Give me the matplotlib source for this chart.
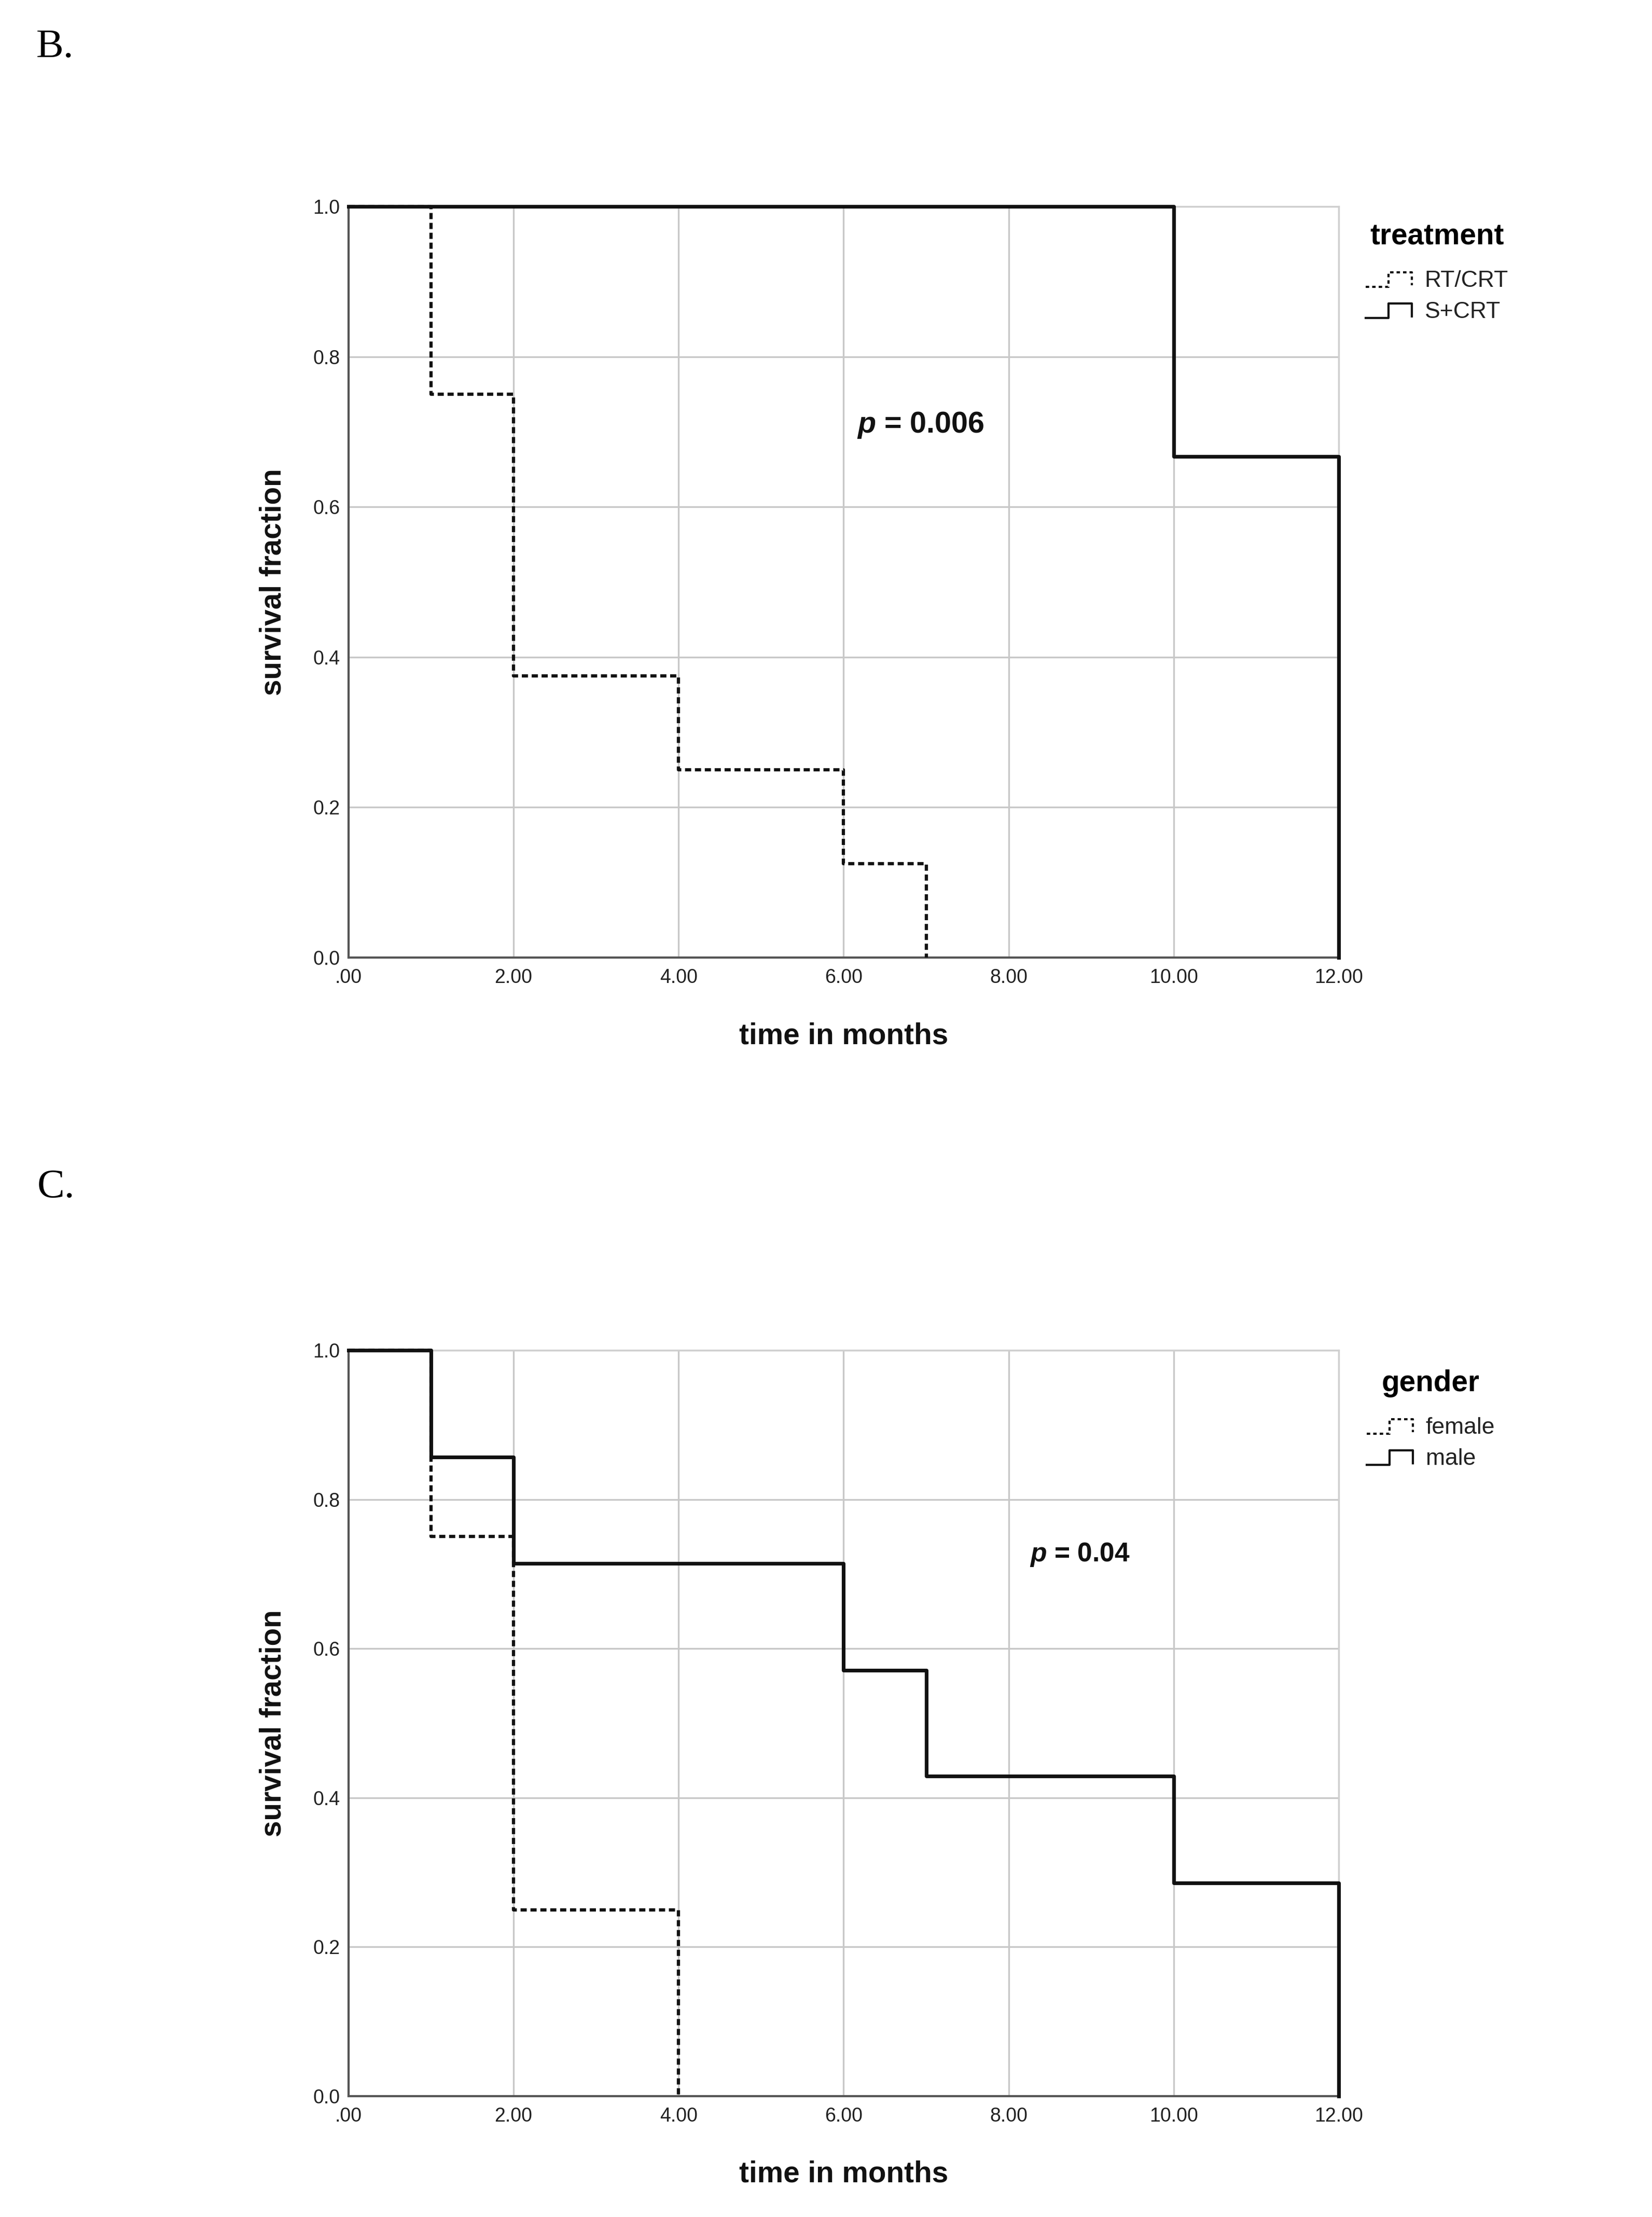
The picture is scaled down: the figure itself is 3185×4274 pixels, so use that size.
import numpy as np
import matplotlib
matplotlib.use("Agg")
import matplotlib.pyplot as plt
from matplotlib.lines import Line2D
from matplotlib.legend_handler import HandlerBase

plt.rcParams['font.family'] = ['Liberation Sans', 'DejaVu Sans']
plt.rcParams['mathtext.fontset'] = 'custom'
plt.rcParams['mathtext.rm'] = 'Liberation Sans'
plt.rcParams['mathtext.bfit'] = 'Liberation Sans:italic:bold'

# Datos: curvas de Kaplan-Meier (tiempo de cada escalón, supervivencia)
# Panel B - tratamiento
t_rtcrt = [0, 1, 2, 4, 6, 7]
s_rtcrt = [1.0, 0.75, 0.375, 0.25, 0.125, 0.0]
t_scrt = [0, 10, 12]
s_scrt = [1.0, 0.667, 0.0]

# Panel C - género
t_female = [0, 1, 2, 4]
s_female = [1.0, 0.75, 0.25, 0.0]
t_male = [0, 1, 2, 6, 7, 10, 12]
s_male = [1.0, 0.857, 0.714, 0.571, 0.429, 0.286, 0.0]

x_ticks = [0, 2, 4, 6, 8, 10, 12]
x_labels = ['.00', '2.00', '4.00', '6.00', '8.00', '10.00', '12.00']
y_ticks = [0.0, 0.2, 0.4, 0.6, 0.8, 1.0]
y_labels = ['0.0', '0.2', '0.4', '0.6', '0.8', '1.0']

DOTTED = (0, (1.9, 1.15))


class StepHandler(HandlerBase):
    # dibuja el símbolo de la leyenda como un pequeño escalón
    def create_artists(self, legend, orig_handle, xdescent, ydescent,
                       width, height, fontsize, trans):
        x0 = -xdescent
        xs = [x0, x0 + 0.5 * width, x0 + 0.5 * width, x0 + width, x0 + width]
        y_lo = -ydescent + 0.0 * height
        y_hi = -ydescent + 0.9 * height
        ys = [y_lo, y_lo, y_hi, y_hi, y_lo + 0.1 * height]
        ln = Line2D(xs, ys, color='#111111', lw=1.0,
                    linestyle=orig_handle.get_linestyle(), transform=trans)
        if orig_handle.get_linestyle() != '-':
            ln.set_dashes((1.6, 1.4))
        return [ln]


fig = plt.figure(figsize=(3186 / 300, 4274 / 300), dpi=300)


def panel(rect, curves, legend_title, legend_anchor, ptext, ppos, psize):
    ax = fig.add_axes(rect)
    handles = []
    for t, s, ls, lab, z in curves:
        if ls == '-':
            h, = ax.step(t, s, where='post', color='#111111', lw=1.7,
                         linestyle='-', clip_on=False, zorder=4, label=lab)
        else:
            h, = ax.step(t, s, where='post', color='#111111', lw=1.5,
                         linestyle=DOTTED, clip_on=False, zorder=3, label=lab)
        handles.append(h)
    ax.set_xlim(0, 12)
    ax.set_ylim(0, 1)
    ax.set_xticks(x_ticks)
    ax.set_xticklabels(x_labels)
    ax.set_yticks(y_ticks)
    ax.set_yticklabels(y_labels)
    ax.tick_params(length=0, labelsize=9, labelcolor='#222222')
    ax.tick_params(axis='x', pad=5)
    ax.tick_params(axis='y', pad=4)
    ax.grid(True, color='#c8c8c8', lw=0.8)
    ax.set_axisbelow(True)
    for side in ['left', 'bottom']:
        ax.spines[side].set_color('#555555')
        ax.spines[side].set_linewidth(1.0)
    for side in ['top', 'right']:
        ax.spines[side].set_color('#cfcfcf')
        ax.spines[side].set_linewidth(0.8)
    ax.set_xlabel('time in months', fontsize=13.6, fontweight='bold', color='#111111')
    ax.xaxis.set_label_coords(0.5, -0.086)
    ax.set_ylabel('survival fraction', fontsize=13.6, fontweight='bold', color='#111111')
    ax.yaxis.set_label_coords(-0.062, 0.5)
    ax.text(ppos[0], ppos[1], ptext, fontsize=psize, fontweight='bold',
            ha='center', va='center', color='#111111')
    leg = fig.legend(handles=handles, loc='upper left', bbox_to_anchor=legend_anchor,
                     bbox_transform=fig.transFigure, frameon=False, fontsize=10.7,
                     title=legend_title, title_fontproperties={'weight': 'bold', 'size': 13.6},
                     handler_map={Line2D: StepHandler()}, handlelength=2.0,
                     handletextpad=0.55, labelspacing=0.42, borderpad=0, borderaxespad=0)
    # separación extra entre el título y las entradas (en puntos)
    leg._legend_box.sep = 9.0
    for txt in leg.get_texts():
        txt.set_color('#222222')
    return ax


panel([0.2109, 0.5681, 0.5992, 0.3388],
      [(t_rtcrt, s_rtcrt, ':', 'RT/CRT', 3), (t_scrt, s_scrt, '-', 'S+CRT', 4)],
      'treatment', (0.8264, 0.8995), r'$\mathbfit{p}$ = 0.006', (6.93, 0.709), 13.8)

panel([0.2109, 0.0545, 0.5992, 0.3365],
      [(t_female, s_female, ':', 'female', 3), (t_male, s_male, '-', 'male', 4)],
      'gender', (0.8270, 0.3822), r'$\mathbfit{p}$ = 0.04', (8.86, 0.726), 12.4)

fig.text(0.022, 0.9743, 'B.', fontsize=19, family='Liberation Serif', va='baseline')
fig.text(0.0226, 0.46, 'C.', fontsize=19, family='Liberation Serif', va='baseline')

fig.savefig('out.png', dpi=300, facecolor='white')
